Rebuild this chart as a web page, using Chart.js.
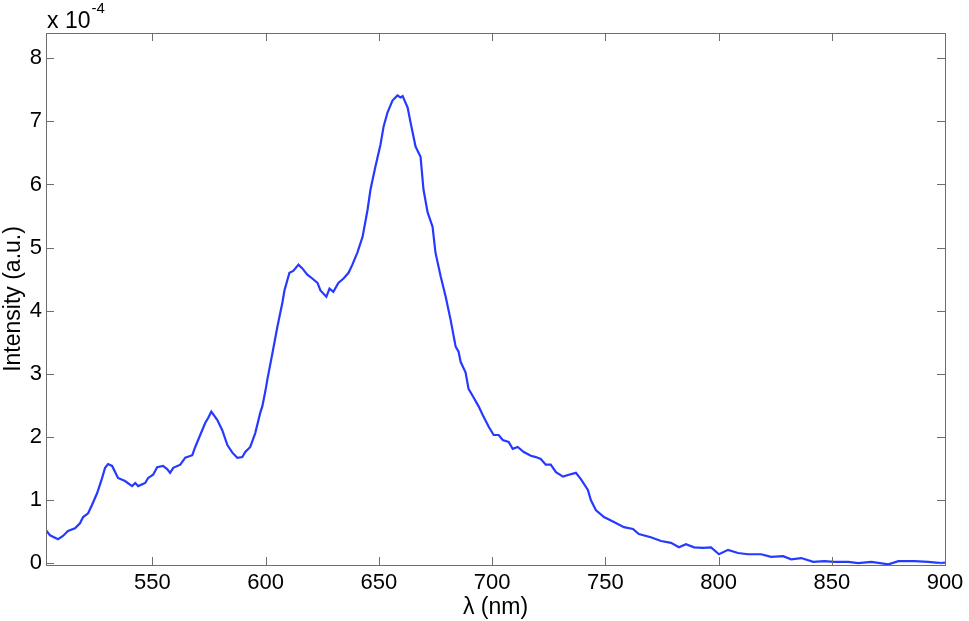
<!DOCTYPE html>
<html>
<head>
<meta charset="utf-8">
<script src="https://cdn.jsdelivr.net/npm/chart.js@4/dist/chart.umd.min.js"></script>
<style>
  html, body { margin: 0; padding: 0; background: #fff; }
  #wrap { width: 969px; height: 621px; }
</style>
</head>
<body>
<div id="wrap"><canvas id="spectrum"></canvas></div>
<script>
// Emission spectrum, intensity in units of 1e-4 (a.u.)
const wavelengths = [
  503.0, 504.8, 508.3, 510.5, 512.7, 515.8, 518.0, 519.4, 521.6, 523.3,
  525.6, 527.8, 529.1, 530.4, 532.2, 534.8, 537.9, 541.0, 542.4, 543.7,
  546.8, 548.1, 550.3, 552.1, 554.7, 556.5, 557.8, 559.2, 562.3, 564.5,
  567.6, 568.9, 571.1, 573.3, 574.6, 576.0, 578.6, 580.8, 583.1, 585.3,
  587.5, 589.7, 591.0, 593.2, 595.4, 597.6, 598.5, 599.9, 600.7, 603.0,
  605.2, 607.4, 608.3, 610.5, 612.2, 614.5, 616.2, 618.4, 620.6, 622.9,
  624.2, 626.8, 628.2, 629.9, 632.1, 634.4, 636.6, 638.3, 640.5, 642.8,
  645.0, 646.3, 648.5, 650.7, 652.1, 653.8, 656.0, 658.2, 659.6, 660.5,
  662.7, 664.0, 666.2, 668.4, 669.7, 671.5, 673.7, 675.0, 677.3, 679.5,
  681.7, 683.9, 685.2, 686.1, 688.3, 689.6, 691.9, 694.1, 695.8, 698.5,
  700.7, 702.9, 704.7, 707.3, 709.1, 711.3, 714.0, 717.1, 719.3, 721.5,
  723.7, 725.9, 728.2, 731.3, 733.9, 737.0, 739.2, 742.3, 743.6, 745.8,
  749.4, 753.8, 758.2, 762.2, 764.8, 770.1, 774.6, 779.0, 782.5, 785.6,
  789.2, 793.1, 796.7, 800.2, 804.2, 808.6, 813.0, 818.8, 823.2, 828.5,
  832.1, 836.5, 841.8, 846.7, 851.1, 857.3, 861.7, 867.5, 875.0, 879.4,
  886.5, 892.6, 898.4, 900.0
];
const intensity = [
  0.52, 0.44, 0.38, 0.43, 0.51, 0.55, 0.63, 0.73, 0.79, 0.92,
  1.11, 1.35, 1.51, 1.57, 1.54, 1.35, 1.30, 1.22, 1.27, 1.22,
  1.27, 1.35, 1.40, 1.52, 1.54, 1.49, 1.43, 1.51, 1.56, 1.67,
  1.71, 1.84, 2.03, 2.22, 2.30, 2.40, 2.27, 2.11, 1.87, 1.75,
  1.67, 1.68, 1.76, 1.84, 2.06, 2.38, 2.48, 2.73, 2.90, 3.33,
  3.75, 4.13, 4.32, 4.60, 4.63, 4.73, 4.67, 4.57, 4.51, 4.44,
  4.32, 4.22, 4.35, 4.30, 4.44, 4.51, 4.60, 4.73, 4.92, 5.17,
  5.60, 5.92, 6.29, 6.63, 6.92, 7.14, 7.33, 7.41, 7.38, 7.40,
  7.22, 6.98, 6.60, 6.44, 5.92, 5.56, 5.33, 4.92, 4.54, 4.22,
  3.85, 3.43, 3.35, 3.19, 3.02, 2.76, 2.62, 2.48, 2.35, 2.16,
  2.03, 2.03, 1.95, 1.92, 1.81, 1.84, 1.76, 1.70, 1.68, 1.65,
  1.56, 1.56, 1.44, 1.37, 1.40, 1.43, 1.33, 1.16, 1.00, 0.84,
  0.73, 0.65, 0.57, 0.54, 0.46, 0.41, 0.35, 0.32, 0.25, 0.30,
  0.25, 0.24, 0.25, 0.14, 0.21, 0.16, 0.14, 0.14, 0.10, 0.11,
  0.06, 0.08, 0.02, 0.03, 0.02, 0.02, 0.00, 0.02, -0.02, 0.03,
  0.03, 0.02, 0.00, 0.01
];
const xTicks = [550, 600, 650, 700, 750, 800, 850, 900];
const yTicks = [0, 1, 2, 3, 4, 5, 6, 7, 8];

const FONT = "'Liberation Sans', Arial, Helvetica, sans-serif";
const AXIS_COLOR = '#6e6e6e';

// MATLAB style box with inward ticks on all four sides, plus the exponent label
const matlabBox = {
    id: 'matlabBox',
    afterDatasetsDraw(chart) {
        const ctx = chart.ctx;
        const area = chart.chartArea;
        const xs = chart.scales.x;
        const ys = chart.scales.y;
        const len = 8;

        ctx.save();
        ctx.strokeStyle = AXIS_COLOR;
        ctx.lineWidth = 1;
        ctx.strokeRect(area.left + 0.5, area.top + 0.5, area.right - area.left, area.bottom - area.top);

        ctx.beginPath();
        xTicks.forEach(v => {
            const px = Math.round(xs.getPixelForValue(v)) + 0.5;
            ctx.moveTo(px, area.bottom);
            ctx.lineTo(px, area.bottom - len);
            ctx.moveTo(px, area.top);
            ctx.lineTo(px, area.top + len);
        });
        yTicks.forEach(v => {
            const py = Math.round(ys.getPixelForValue(v)) + 0.5;
            ctx.moveTo(area.left, py);
            ctx.lineTo(area.left + len, py);
            ctx.moveTo(area.right, py);
            ctx.lineTo(area.right - len, py);
        });
        ctx.stroke();

        // exponent label "x 10^-4"
        ctx.fillStyle = '#000';
        ctx.textBaseline = 'alphabetic';
        ctx.font = '23px ' + FONT;
        ctx.fillText('x 10', area.left + 1, area.top - 5);
        const w = ctx.measureText('x 10').width;
        ctx.font = '15px ' + FONT;
        ctx.fillText('-4', area.left + 1 + w + 1, area.top - 20);
        ctx.restore();
    }
};

const ctx = document.getElementById('spectrum').getContext('2d');
const spectrumChart = new Chart(ctx, {
    type: 'line',
    data: {
        datasets: [{
            data: wavelengths.map((x, i) => ({ x: x, y: intensity[i] })),
            borderColor: 'rgb(38, 58, 255)',
            borderWidth: 2.2,
            pointRadius: 0,
            tension: 0,
            fill: false
        }]
    },
    options: {
        responsive: true,
        maintainAspectRatio: false,
        animation: false,
        layout: {
            padding: { top: 33, right: 24, bottom: 0, left: 0 }
        },
        plugins: {
            legend: { display: false },
            tooltip: { enabled: false }
        },
        scales: {
            x: {
                type: 'linear',
                min: 503,
                max: 900,
                afterFit: s => { s.height = 56; },
                afterBuildTicks: s => { s.ticks = xTicks.map(v => ({ value: v })); },
                grid: { display: false, drawTicks: false },
                border: { display: false },
                ticks: {
                    color: '#000',
                    padding: 5,
                    maxRotation: 0,
                    font: { family: FONT, size: 22 }
                },
                title: {
                    display: true,
                    text: 'λ (nm)',
                    color: '#000',
                    padding: { top: 0, bottom: 0 },
                    font: { family: FONT, size: 23 }
                }
            },
            y: {
                min: -0.03,
                max: 8.4,
                afterFit: s => { s.width = 46; },
                afterBuildTicks: s => { s.ticks = yTicks.map(v => ({ value: v })); },
                grid: { display: false, drawTicks: false },
                border: { display: false },
                ticks: {
                    color: '#000',
                    padding: 4,
                    font: { family: FONT, size: 22 }
                },
                title: {
                    display: true,
                    text: 'Intensity (a.u.)',
                    color: '#000',
                    padding: { top: 0, bottom: 0 },
                    font: { family: FONT, size: 23 }
                }
            }
        }
    },
    plugins: [matlabBox]
});
</script>
</body>
</html>
